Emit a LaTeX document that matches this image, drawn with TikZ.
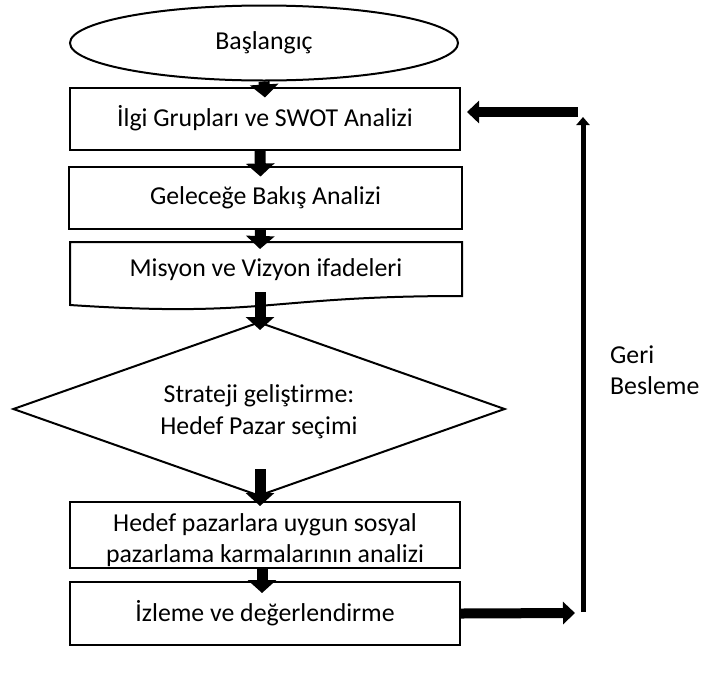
\documentclass[tikz,border=0pt]{standalone}
\usepackage{fontspec}
\setmainfont{Carlito}[Ligatures={NoCommon}]
\usetikzlibrary{shapes.geometric,arrows.meta,calc}
\tikzset{
  procbox/.style={draw, line width=2pt, rectangle, minimum width=390pt, minimum height=62pt, inner sep=0pt, align=center},
  bigarrow/.style={line width=11pt, -{Triangle[width=28pt,length=13pt]}},
  sidearrow/.style={line width=10pt, -{Triangle[width=22pt,length=12pt]}}
}
\begin{document}
\begin{tikzpicture}[x=1pt,y=-1pt, every node/.style={font=\fontsize{25.8}{31}\selectfont}]
	\useasboundingbox (0,0) rectangle (703,675);
	% akis kutulari
	\node[draw, line width=2pt, ellipse, minimum width=388pt, minimum height=75pt, inner sep=0pt] (start) at (264,43) {Başlangıç};
	\node[procbox] (b1) at (265,118.5) {İlgi Grupları ve SWOT Analizi};
	\node[procbox, minimum width=393pt] (b2) at (265.5,197.5) {Geleceğe Bakış Analizi};
	\node (b3) at (266,270) {Misyon ve Vizyon ifadeleri};
	\draw[line width=2pt] (70,242) -- (462,242) -- (462,296) .. controls (266,296) and (266,318) .. (70,305) -- cycle;
	\coordinate (b3bot) at (260,292);
	\node[draw, line width=2pt, diamond, aspect=2.83, minimum width=492pt, minimum height=174pt, inner sep=0pt, align=center] (d) at (259,409) {\rule{0pt}{24pt}Strateji geliştirme:\\[1pt]Hedef Pazar seçimi};
	\node[procbox, minimum height=66pt] (b5) at (265,535) {\rule{0pt}{28pt}Hedef pazarlara uygun sosyal\\pazarlama karmalarının analizi};
	\node[procbox, minimum height=63pt] (b6) at (265,613.5) {İzleme ve değerlendirme};
	\node[anchor=west, align=left, inner sep=0pt] (geri) at (610,370) {Geri\\Besleme};
	% geri besleme hatti
	\coordinate (fbbot) at (583,612);
	\coordinate (fbtop) at (583,117);
	\coordinate (fbin) at (578,112);
	\draw[bigarrow] (start.south) -- ($(b1.north)+(0,11)$);
	\draw[bigarrow] ($(b1.south)+(-5,0)$) -- ($(b2.north)+(-5,11)$);
	\draw[bigarrow] ($(b2.south)+(-5,0)$) -- (260,249);
	\draw[bigarrow] (b3bot) -- ($(d.north)+(1,9)$);
	\draw[bigarrow] ($(d.south)+(1,-28)$) -- ($(b5.north)+(-5,5)$);
	\draw[bigarrow] ($(b5.south)+(-3,0)$) -- ($(b6.north)+(-3,12)$);
	\draw[sidearrow] (b6.east) -- ($(fbbot)+(-8,1)$);
	\draw[line width=5pt, -{Triangle[width=13pt,length=8pt]}] (fbbot) -- (fbtop);
	\draw[sidearrow] (fbin) -- ($(b1.east)+(6,-6.5)$);
\end{tikzpicture}
\end{document}
